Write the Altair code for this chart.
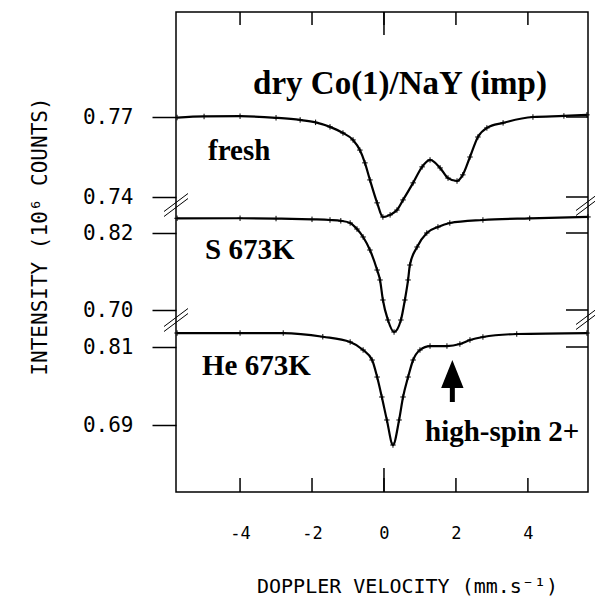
import altair as alt
import pandas as pd

# ---- data (velocity in mm/s, intensity in 10^6 counts) ----
fresh_v = [-5.75, -5.0, -4.0, -3.0, -2.33, -1.9, -1.5, -1.14, -0.86, -0.67, -0.53, -0.39,
           -0.19, -0.03, 0.17, 0.36, 0.53, 0.81, 1.06, 1.28, 1.56, 1.78, 2.03, 2.19, 2.39,
           2.61, 2.86, 3.31, 4.14, 5.0, 5.64]
fresh_c = [0.7698, 0.7702, 0.7703, 0.7697, 0.7689, 0.7680, 0.7663, 0.7640, 0.7614, 0.7576,
           0.7528, 0.7464, 0.7378, 0.7325, 0.7333, 0.7351, 0.7389, 0.7453, 0.7513, 0.7539,
           0.7509, 0.7471, 0.7460, 0.7483, 0.7550, 0.7625, 0.7659, 0.7678, 0.7700, 0.7704,
           0.7708]

s_v = [-5.75, -4.0, -3.0, -2.0, -1.5, -1.2, -0.94, -0.75, -0.58, -0.39, -0.19, -0.11, -0.03,
       0.11, 0.28, 0.47, 0.58, 0.67, 0.72, 0.92, 1.19, 1.5, 1.83, 2.75, 4.05, 5.67]
s_c = [0.8429, 0.8430, 0.8425, 0.8413, 0.8403, 0.8390, 0.8356, 0.8262, 0.8138, 0.7935,
       0.7623, 0.7468, 0.7156, 0.6844, 0.6657, 0.6844, 0.7156, 0.7468, 0.7701, 0.7982,
       0.8200, 0.8294, 0.8356, 0.8403, 0.8429, 0.8450]

he_v = [-5.75, -4.0, -2.8, -1.7, -0.94, -0.58, -0.33, -0.19, -0.06, 0.08, 0.25, 0.42, 0.53,
        0.67, 0.81, 1.0, 1.28, 1.75, 2.11, 2.39, 2.75, 3.69, 5.64]
he_c = [0.8315, 0.8315, 0.8315, 0.8258, 0.8177, 0.8054, 0.7900, 0.7638, 0.7331, 0.6977,
        0.6592, 0.6977, 0.7331, 0.7638, 0.7900, 0.8054, 0.8115, 0.8115, 0.8146, 0.8208,
        0.8254, 0.8300, 0.8315]

x_ticks = [-4, -2, 0, 2, 4]
fresh_ticks = [0.77, 0.74]
s_ticks = [0.82, 0.70]
he_ticks = [0.81, 0.69]

# ---- layout of the stacked (broken) intensity axis ----
W, H = 412, 480
# panel: (reference value, its position from top, px per 10^6 counts)
panels = {
    "fresh": (0.77, 105.0, 80.0 / 0.03),
    "S": (0.82, 221.0, 77.0 / 0.12),
    "He": (0.81, 335.0, 78.0 / 0.12),
}


def pos(series, c):
    ref, p0, k = panels[series]
    return p0 + (ref - c) * k


rows = []
for name, vs, cs in [("fresh", fresh_v, fresh_c), ("S", s_v, s_c), ("He", he_v, he_c)]:
    for v, c in zip(vs, cs):
        rows.append({"series": name, "v": v, "c": c, "d": pos(name, c)})
df = pd.DataFrame(rows)

ytick_rows = []
for name, ts in [("fresh", fresh_ticks), ("S", s_ticks), ("He", he_ticks)]:
    for t in ts:
        ytick_rows.append({"d": pos(name, t), "label": f"{t:.2f}"})
ytick_df = pd.DataFrame(ytick_rows).sort_values("d").reset_index(drop=True)

# label expression mapping tick positions back to their values
dl = list(ytick_df["d"])
ll = list(ytick_df["label"])
expr = f"'{ll[-1]}'"
for i in range(len(dl) - 2, -1, -1):
    mid = (dl[i] + dl[i + 1]) / 2
    expr = f"datum.value < {mid:.2f} ? '{ll[i]}' : ({expr})"

xmin, xmax = -5.78, 5.67
px_per_v = W / (xmax - xmin)
xscale = alt.Scale(domain=[xmin, xmax], nice=False, zero=False)
yscale = alt.Scale(domain=[0, H], reverse=True, nice=False, zero=False)

mono = "DejaVu Sans Mono"
serif = "Liberation Serif"

xaxis = alt.Axis(values=x_ticks, ticks=False, domain=False, grid=False,
                 labelFont=mono, labelFontSize=17, labelPadding=33, labelColor="black",
                 labelExpr="toString(datum.value)",
                 title="DOPPLER VELOCITY (mm.s⁻¹)", titleFont=mono, titleFontSize=20,
                 titleFontWeight="normal", titleColor="black", titleX=231, titleY=94,
                 titleAlign="center", titleBaseline="middle")
yaxis = alt.Axis(values=dl, labelExpr=expr, ticks=True, tickSize=24, tickWidth=1.5,
                 tickColor="black", domain=False, grid=False,
                 labelFont=mono, labelFontSize=21, labelPadding=19, labelColor="black",
                 title="INTENSITY (10⁶ COUNTS)", titleFont=mono, titleFontSize=21,
                 titleFontWeight="normal", titleColor="black", titleX=-136, titleY=224,
                 titleAngle=270, titleAlign="center", titleBaseline="middle")

base = alt.Chart(df).encode(
    x=alt.X("v:Q", scale=xscale, axis=xaxis),
    y=alt.Y("d:Q", scale=yscale, axis=yaxis),
    detail="series:N",
)
lines = base.mark_line(color="black", strokeWidth=2.2, interpolate="monotone")
points = base.mark_point(shape="M-1,0L1,0M0,-1L0,1", size=30, color="black",
                         strokeWidth=1, opacity=1)

# inward x ticks, bottom and top (the zero tick is longer)
xt = alt.Chart(pd.DataFrame({"v": x_ticks}))
xt_bottom = xt.mark_rule(color="black", strokeWidth=1.5).encode(
    x="v:Q", y=alt.datum(H - 14), y2=alt.datum(H))
xt_top = xt.mark_rule(color="black", strokeWidth=1.5).encode(
    x="v:Q", y=alt.datum(0), y2=alt.datum(13))
xt0_bottom = xt.transform_filter("datum.v == 0").mark_rule(color="black", strokeWidth=1.5).encode(
    x="v:Q", y=alt.datum(H - 24), y2=alt.datum(H))
xt0_top = xt.transform_filter("datum.v == 0").mark_rule(color="black", strokeWidth=1.5).encode(
    x="v:Q", y=alt.datum(0), y2=alt.datum(23))

# inward ticks on the right edge
yt_right = alt.Chart(ytick_df).transform_filter("datum.label != '0.69'").mark_rule(
    color="black", strokeWidth=1.5).encode(
    y="d:Q", x=alt.datum(xmax - 22 / px_per_v), x2=alt.datum(xmax))

# axis break marks "//"
brk_rows = []
for edge, dpos in [(xmin, 193.0), (xmin, 308.0), (xmax, 192.0), (xmax, 306.0)]:
    for off in (-2.5, 2.5):
        brk_rows.append({"x0": edge - 12 / px_per_v, "x1": edge + 12 / px_per_v,
                         "y0": dpos + 9 + off, "y1": dpos - 9 + off})
brk = alt.Chart(pd.DataFrame(brk_rows)).mark_rule(color="black", strokeWidth=1).encode(
    x="x0:Q", x2="x1:Q", y="y0:Q", y2="y1:Q")

# arrow pointing at the high-spin shoulder
arrow_v = 1.9
arrow_df = pd.DataFrame({"v": [arrow_v]})
shaft = alt.Chart(arrow_df).mark_rule(color="black", strokeWidth=5).encode(
    x="v:Q", y=alt.value(372), y2=alt.value(390))
head = alt.Chart(arrow_df).mark_point(shape="M0,-1L0.8,1L-0.8,1Z", size=784, filled=True,
                                      color="black", opacity=1).encode(
    x="v:Q", y=alt.value(362))

dummy = alt.Chart(pd.DataFrame({"a": [0]}))


def label(text, x, y, size=29, align="left"):
    return dummy.mark_text(font=serif, fontWeight="bold", fontSize=size, align=align,
                           baseline="alphabetic", color="black").encode(
        x=alt.value(x), y=alt.value(y), text=alt.value(text))


texts = [
    label("dry Co(1)/NaY (imp)", 224, 82, size=33, align="center"),
    label("fresh", 32, 148),
    label("S 673K", 29, 247),
    label("He 673K", 26, 363),
    label("high-spin 2+", 249, 429),
]

chart = alt.layer(lines, points, xt_bottom, xt_top, xt0_bottom, xt0_top, yt_right, brk,
                  shaft, head, *texts).properties(
    width=W, height=H,
    autosize=alt.AutoSizeParams(type="none"),
    padding={"left": 176, "top": 12, "right": 7, "bottom": 108},
    background="white",
).configure_view(stroke="black", strokeWidth=1.5)

chart.save("out.html", embed_options={"renderer": "svg", "actions": False})
